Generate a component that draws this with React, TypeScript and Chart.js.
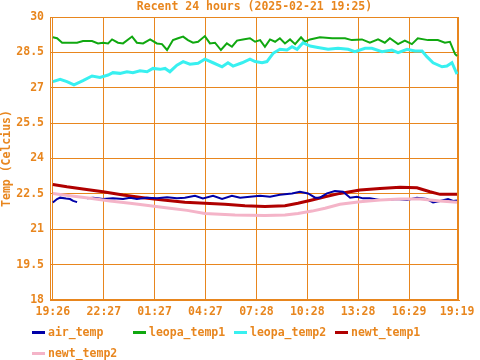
import React, { useEffect, useRef } from "react";
import { Chart, registerables } from "chart.js";

Chart.register(...registerables);

// minutes since 19:26 (2025-02-20)
const xTickMinutes = [0, 181, 361, 541, 722, 902, 1082, 1263, 1433];
const xTickLabels = ["19:26", "22:27", "01:27", "04:27", "07:28", "10:28", "13:28", "16:29", "19:19"];
const yTickValues = [18, 19.5, 21, 22.5, 24, 25.5, 27, 28.5, 30];

const titleText = "Recent 24 hours (2025-02-21 19:25)";
const yAxisTitle = "Temp (Celcius)";

const seriesNames = ["air_temp", "leopa_temp1", "leopa_temp2", "newt_temp1", "newt_temp2"];
const seriesColors = ["#0000A8", "#10A810", "#38F0F0", "#B00000", "#F4B4C8"];

const airTimes = [0, 15, 26, 47, 61, 72, 86, 100, 121, 143, 178, 213, 249, 274, 298, 334, 369, 405, 440, 468, 504, 532, 568, 600, 635, 664, 699, 735, 770, 805, 848, 876, 905, 930, 947, 972, 1000, 1029, 1054, 1078, 1100, 1124, 1160, 1185, 1220, 1256, 1291, 1326, 1348, 1373, 1401, 1419, 1433];
const airValues = [22.13, 22.28, 22.34, 22.30, 22.28, 22.20, 22.15, null, 22.31, 22.34, 22.28, 22.31, 22.28, 22.34, 22.28, 22.34, 22.31, 22.36, 22.31, 22.34, 22.42, 22.31, 22.42, 22.28, 22.42, 22.34, 22.38, 22.42, 22.38, 22.46, 22.52, 22.59, 22.52, 22.34, 22.34, 22.52, 22.62, 22.59, 22.34, 22.38, 22.31, 22.31, 22.24, 22.24, 22.28, 22.24, 22.34, 22.28, 22.14, 22.20, 22.28, 22.20, 22.22];

const leopa1Times = [0, 15, 33, 61, 86, 107, 139, 160, 178, 196, 210, 231, 249, 281, 298, 320, 345, 369, 387, 405, 426, 444, 462, 479, 497, 515, 539, 557, 575, 596, 617, 635, 653, 674, 699, 717, 735, 752, 770, 788, 805, 823, 841, 859, 880, 894, 912, 947, 990, 1036, 1060, 1096, 1124, 1153, 1177, 1195, 1224, 1248, 1273, 1294, 1330, 1365, 1390, 1408, 1426, 1433];
const leopa1Values = [29.14, 29.10, 28.91, 28.91, 28.91, 28.98, 28.98, 28.88, 28.91, 28.88, 29.05, 28.91, 28.88, 29.17, 28.91, 28.88, 29.05, 28.88, 28.85, 28.60, 29.02, 29.10, 29.17, 29.02, 28.91, 28.95, 29.19, 28.88, 28.91, 28.60, 28.88, 28.74, 29.00, 29.05, 29.10, 28.95, 29.02, 28.74, 29.05, 28.95, 29.10, 28.88, 29.05, 28.85, 29.14, 28.95, 29.05, 29.14, 29.10, 29.10, 29.02, 29.05, 28.91, 29.05, 28.91, 29.10, 28.85, 29.00, 28.85, 29.10, 29.02, 29.02, 28.91, 28.95, 28.43, 28.35];

const leopa2Times = [0, 26, 50, 75, 107, 139, 167, 196, 213, 238, 263, 284, 309, 334, 355, 380, 398, 415, 440, 462, 486, 515, 539, 568, 600, 621, 639, 671, 699, 717, 742, 759, 781, 805, 830, 848, 866, 887, 912, 940, 976, 1011, 1047, 1071, 1107, 1131, 1167, 1202, 1224, 1256, 1284, 1309, 1326, 1348, 1380, 1397, 1415, 1433];
const leopa2Values = [27.26, 27.36, 27.26, 27.12, 27.30, 27.50, 27.44, 27.54, 27.64, 27.61, 27.68, 27.64, 27.72, 27.68, 27.82, 27.78, 27.82, 27.68, 27.96, 28.11, 28.00, 28.04, 28.21, 28.06, 27.89, 28.06, 27.92, 28.06, 28.21, 28.11, 28.06, 28.11, 28.46, 28.63, 28.60, 28.74, 28.63, 28.91, 28.77, 28.71, 28.63, 28.67, 28.63, 28.53, 28.67, 28.67, 28.53, 28.60, 28.49, 28.63, 28.56, 28.56, 28.32, 28.06, 27.89, 27.92, 28.06, 27.58];

const newt1Times = [0, 50, 107, 178, 249, 320, 391, 468, 539, 610, 681, 752, 823, 869, 919, 965, 1018, 1089, 1160, 1231, 1291, 1337, 1373, 1433];
const newt1Values = [22.90, 22.80, 22.71, 22.59, 22.45, 22.34, 22.24, 22.14, 22.10, 22.06, 22.00, 21.96, 22.00, 22.10, 22.24, 22.38, 22.52, 22.66, 22.73, 22.78, 22.76, 22.59, 22.48, 22.48];

const newt2Times = [0, 61, 132, 203, 274, 345, 415, 476, 539, 646, 752, 823, 869, 919, 965, 1018, 1089, 1160, 1231, 1302, 1373, 1433];
const newt2Values = [22.52, 22.42, 22.31, 22.20, 22.10, 22.00, 21.89, 21.80, 21.67, 21.60, 21.58, 21.60, 21.67, 21.77, 21.89, 22.06, 22.17, 22.24, 22.28, 22.28, 22.20, 22.14];

const ORANGE = "#E8861E";
const FONT = "'DejaVu Sans Mono', monospace";

function toPoints(times: number[], values: (number | null)[]) {
  return times.map((t, i) => ({ x: t, y: values[i] }));
}

const frameAndText = {
  id: "frameAndText",
  afterDatasetsDraw(chart: any) {
    const { ctx, chartArea } = chart;
    ctx.save();
    ctx.strokeStyle = ORANGE;
    ctx.lineWidth = 1;
    ctx.strokeRect(
      Math.round(chartArea.left) + 0.5,
      Math.round(chartArea.top) + 0.5,
      Math.round(chartArea.right - chartArea.left) - 1,
      Math.round(chartArea.bottom - chartArea.top) - 1
    );
    ctx.restore();
  },
  afterDraw(chart: any) {
    const { ctx, chartArea } = chart;
    ctx.save();
    ctx.font = `bold 11.5px ${FONT}`;
    ctx.fillStyle = ORANGE;
    ctx.textBaseline = "middle";
    ctx.textAlign = "center";
    ctx.fillText(titleText, (chartArea.left + chartArea.right) / 2, 7);
    ctx.textAlign = "left";
    chart.data.datasets.forEach((ds: any, i: number) => {
      const col = i % 4;
      const row = Math.floor(i / 4);
      const x0 = 32 + col * 101;
      const y = 332 + row * 21;
      ctx.strokeStyle = ds.borderColor;
      ctx.lineWidth = 3;
      ctx.beginPath();
      ctx.moveTo(x0, y + 0.5);
      ctx.lineTo(x0 + 13, y + 0.5);
      ctx.stroke();
      ctx.fillStyle = ORANGE;
      ctx.fillText(ds.label, x0 + 16, y + 1);
    });
    ctx.restore();
  },
};

export default function App() {
  const ref = useRef<HTMLCanvasElement>(null);
  useEffect(() => {
    document.body.style.margin = "0";
    const allTimes = [airTimes, leopa1Times, leopa2Times, newt1Times, newt2Times];
    const allValues = [airValues, leopa1Values, leopa2Values, newt1Values, newt2Values];
    const widths = [2, 2, 3, 3, 3];
    const orders = [2, 5, 4, 3, 1];
    const chart = new Chart(ref.current as HTMLCanvasElement, {
      type: "line",
      data: {
        datasets: seriesNames.map((name, i) => ({
          label: name,
          data: toPoints(allTimes[i], allValues[i] as any),
          borderColor: seriesColors[i],
          backgroundColor: seriesColors[i],
          borderWidth: widths[i],
          pointRadius: 0,
          tension: 0,
          spanGaps: false,
          order: orders[i],
        })),
      },
      options: {
        responsive: false,
        animation: false,
        devicePixelRatio: 1,
        layout: { padding: { top: 17, right: 21, bottom: 40, left: 0 } },
        plugins: {
          legend: { display: false },
          title: { display: false },
          tooltip: { enabled: false },
        },
        scales: {
          x: {
            type: "linear",
            min: -10,
            max: 1440,
            afterBuildTicks: (scale: any) => {
              scale.ticks = xTickMinutes.map((v) => ({ value: v }));
            },
            afterFit: (scale: any) => {
              scale.height = 20;
            },
            ticks: {
              autoSkip: false,
              maxRotation: 0,
              padding: 5,
              color: ORANGE,
              font: { family: FONT, size: 11.5, weight: "bold" },
              callback: (v: any) => {
                const idx = xTickMinutes.indexOf(Number(v));
                return idx >= 0 ? xTickLabels[idx] : "";
              },
            },
            grid: { color: ORANGE, lineWidth: 1, drawTicks: false },
            border: { display: true, color: ORANGE },
          },
          y: {
            min: 18,
            max: 30,
            afterBuildTicks: (scale: any) => {
              scale.ticks = yTickValues.map((v) => ({ value: v }));
            },
            afterFit: (scale: any) => {
              scale.width = 50;
            },
            ticks: {
              autoSkip: false,
              padding: 6,
              color: ORANGE,
              font: { family: FONT, size: 11.5, weight: "bold" },
              callback: (v: any) => String(v),
            },
            grid: { color: ORANGE, lineWidth: 1, drawTicks: false },
            border: { display: true, color: ORANGE },
            title: {
              display: true,
              text: yAxisTitle,
              color: ORANGE,
              font: { family: FONT, size: 11.5, weight: "bold" },
              padding: { top: 0, bottom: 0 },
            },
          },
        },
      },
      plugins: [frameAndText],
    } as any);
    return () => chart.destroy();
  }, []);
  return (
    <div style={{ position: "fixed", left: 0, top: 0, width: 480, height: 360, background: "#fff" }}>
      <canvas ref={ref} width={480} height={360} />
    </div>
  );
}
